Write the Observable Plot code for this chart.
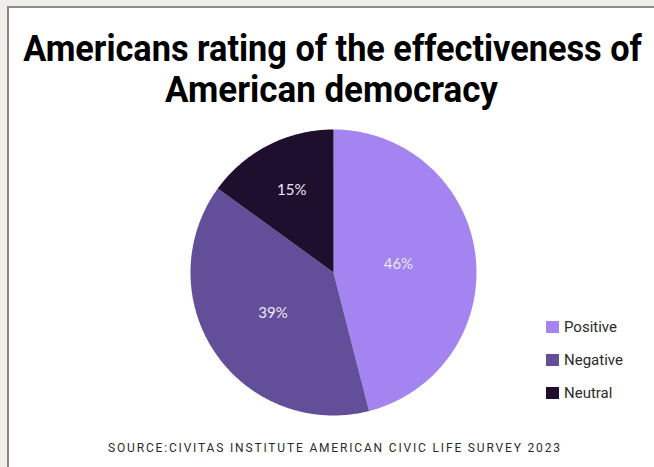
<!DOCTYPE html>
<html>
<head>
<meta charset="utf-8">
<script src="https://cdn.jsdelivr.net/npm/d3@7"></script>
<script src="https://cdn.jsdelivr.net/npm/@observablehq/plot@0.6"></script>
<style>
  html, body { margin: 0; padding: 0; }
  body { width: 654px; height: 467px; background: #efeeea; position: relative; overflow: hidden; }
  #panel { position: absolute; left: 7px; top: 6px; width: 700px; height: 520px; background: #fff;
           border-left: 2px solid #858580; border-top: 2px solid #8d8d88; }
  #texts { position: absolute; left: 0; top: 0; }
  #chart { position: absolute; left: 183px; top: 122px; }
  #legend { position: absolute; left: 546px; top: 311px; font-family: Roboto, sans-serif;
            font-size: 15px; color: #2a2a2a; }
  .item { display: flex; align-items: center; height: 32.7px; }
  .sw { width: 13px; height: 12px; margin-right: 5px; }
</style>
</head>
<body>
<div id="panel"></div>
<svg id="texts" width="654" height="467">
  <text class="fit" data-cx="332.5" data-y="61" data-w="619" text-anchor="middle"
        font-family="Roboto, sans-serif" font-weight="700" font-size="37" fill="#000">Americans rating of the effectiveness of</text>
  <text class="fit" data-cx="331.5" data-y="102" data-w="333" text-anchor="middle"
        font-family="Roboto, sans-serif" font-weight="700" font-size="37" fill="#000">American democracy</text>
  <text x="108" y="452" textLength="452" lengthAdjust="spacing"
        font-family="Roboto, sans-serif" font-size="12" fill="#2b2b2b">SOURCE:CIVITAS INSTITUTE AMERICAN CIVIC LIFE SURVEY 2023</text>
</svg>
<div id="chart"></div>
<div id="legend"></div>
<script>
const categories = ["Positive", "Negative", "Neutral"];
const values = [46, 39, 15];
const colors = ["#a384f1", "#634f99", "#1d0f2d"];

// condense the title lines to the reference widths
document.querySelectorAll("text.fit").forEach(t => {
  const w = t.getComputedTextLength();
  const k = (+t.dataset.w) / w;
  t.setAttribute("transform", `translate(${t.dataset.cx},${t.dataset.y}) scale(${k},1)`);
});

const data = categories.map((c, i) => ({category: c, value: values[i]}));
const arcs = d3.pie().sort(null).value(d => d.value)(data);

// slice outlines in unit-circle data coordinates (angle 0 at top, clockwise)
const outline = [];
for (const a of arcs) {
  const n = Math.max(2, Math.ceil((a.endAngle - a.startAngle) / 0.01));
  outline.push({category: a.data.category, x: 0, y: 0});
  for (let k = 0; k <= n; k++) {
    const t = a.startAngle + (a.endAngle - a.startAngle) * k / n;
    outline.push({category: a.data.category, x: Math.sin(t), y: Math.cos(t)});
  }
}
// labels at sector centroids
const labels = arcs.map(a => {
  const half = (a.endAngle - a.startAngle) / 2;
  const mid = a.startAngle + half;
  const r = 2 * Math.sin(half) / (3 * half);
  return {label: a.data.value + "%", x: r * Math.sin(mid), y: r * Math.cos(mid)};
});

const R = 1.049;
const chart = Plot.plot({
  width: 300, height: 300, margin: 0,
  x: {domain: [-R, R], axis: null},
  y: {domain: [-R, R], axis: null},
  color: {domain: categories, range: colors},
  marks: [
    Plot.line(outline, {x: "x", y: "y", z: "category", fill: "category", stroke: "none", curve: "linear"}),
    Plot.text(labels, {x: "x", y: "y", text: "label", fill: "#eee6f7", fontSize: 15,
      fontFamily: "Lato, 'Open Sans', sans-serif", fontWeight: 400})
  ]
});
document.getElementById("chart").appendChild(chart);

const legend = document.getElementById("legend");
categories.forEach((c, i) => {
  const item = document.createElement("div");
  item.className = "item";
  const sw = document.createElement("span");
  sw.className = "sw";
  sw.style.background = colors[i];
  const tx = document.createElement("span");
  tx.textContent = c;
  item.appendChild(sw); item.appendChild(tx);
  legend.appendChild(item);
});
</script>
</body>
</html>
